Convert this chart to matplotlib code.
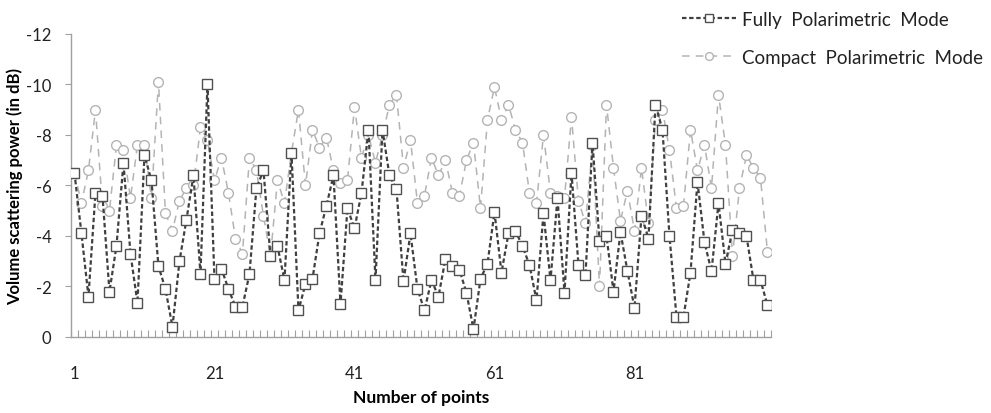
import numpy as np
import matplotlib
matplotlib.use("Agg")
import matplotlib.pyplot as plt
from matplotlib.ticker import FixedLocator

plt.rcParams['font.family'] = ['Lato', 'DejaVu Sans']
plt.rcParams['axes.unicode_minus'] = False

# volume scattering power (dB, stored as magnitude)
fully_pol = [6.5, 4.1, 1.6, 5.7, 5.6, 1.8, 3.6, 6.9, 3.3, 1.35,
             7.2, 6.2, 2.8, 1.9, 0.4, 3.0, 4.65, 6.4, 2.5, 10.0,
             2.3, 2.7, 1.9, 1.2, 1.2, 2.5, 5.9, 6.6, 3.2, 3.6,
             2.25, 7.3, 1.05, 2.1, 2.3, 4.1, 5.2, 6.4, 1.3, 5.1,
             4.3, 5.7, 8.2, 2.25, 8.2, 6.4, 5.85, 2.2, 4.1, 1.9,
             1.05, 2.25, 1.6, 3.1, 2.8, 2.65, 1.75, 0.3, 2.3, 2.9,
             4.95, 2.55, 4.1, 4.2, 3.6, 2.85, 1.45, 4.9, 2.25, 5.5,
             1.75, 6.5, 2.85, 2.45, 7.7, 3.8, 4.0, 1.8, 4.15, 2.6,
             1.15, 4.8, 3.9, 9.2, 8.2, 4.0, 0.8, 0.8, 2.55, 6.15,
             3.75, 2.6, 5.3, 2.9, 4.25, 4.1, 4.0, 2.25, 2.25, 1.25]

compact_pol = [6.5, 5.3, 6.6, 9.0, 5.2, 5.0, 7.6, 7.4, 5.5, 7.6,
               7.6, 5.5, 10.1, 4.9, 4.2, 5.4, 5.9, 6.0, 8.3, 7.8,
               6.2, 7.1, 5.7, 3.9, 3.3, 7.1, 6.6, 4.8, 3.2, 6.2,
               5.3, 7.3, 9.0, 6.0, 8.2, 7.5, 7.9, 6.6, 6.1, 6.2,
               9.1, 7.1, 8.0, 6.9, 8.0, 9.2, 9.6, 6.7, 7.8, 5.3,
               5.6, 7.1, 6.4, 7.0, 5.7, 5.6, 7.0, 7.7, 5.1, 8.6,
               9.9, 8.6, 9.2, 8.2, 7.7, 5.7, 5.3, 8.0, 5.7, 5.6,
               5.5, 8.7, 5.4, 4.5, 7.6, 2.0, 9.2, 6.7, 4.6, 5.8,
               4.2, 6.7, 4.5, 8.6, 9.0, 7.4, 5.1, 5.2, 8.2, 6.6,
               7.6, 5.9, 9.6, 7.6, 3.2, 5.9, 7.2, 6.7, 6.3, 3.35]

points = np.arange(1, len(fully_pol) + 1)
xtick_labels = [1, 21, 41, 61, 81]
ytick_values = [0, -2, -4, -6, -8, -10, -12]

fig = plt.figure(figsize=(9.91, 4.14), dpi=100)
ax = fig.add_axes([0.0716, 0.1836, 0.7064, 0.7319])

ax.plot(points, -np.array(compact_pol), linestyle=(0, (5, 4)), color='#b4b4b4',
        linewidth=1.1, marker='o', markersize=7, markerfacecolor='white',
        markeredgecolor='#b4b4b4', markeredgewidth=1.0,
        label='Compact  Polarimetric  Mode', zorder=2)
ax.plot(points, -np.array(fully_pol), linestyle=(0, (2, 1.2)), color='#404040',
        linewidth=1.6, marker='s', markersize=7, markerfacecolor='white',
        markeredgecolor='#505050', markeredgewidth=1.0,
        label='Fully  Polarimetric  Mode', zorder=3)

ax.set_xlim(0.5, len(points) + 0.5)
ax.set_ylim(0, -12)
ax.set_yticks(ytick_values)
ax.set_yticklabels([str(v) for v in ytick_values])
ax.set_xticks(xtick_labels)
ax.set_xticklabels([str(v) for v in xtick_labels])
ax.xaxis.set_minor_locator(FixedLocator(np.arange(0.5, len(points) + 1, 1)))

ax.tick_params(axis='x', which='major', length=0, pad=20, labelsize=12, labelcolor='#222222')
ax.tick_params(axis='x', which='minor', direction='in', length=5, width=0.8, color='#a0a0a0')
ax.tick_params(axis='y', which='major', direction='out', length=4, width=0.8,
               color='#a0a0a0', labelsize=12, labelcolor='#222222', pad=10)

for side in ['top', 'right']:
    ax.spines[side].set_visible(False)
for side in ['left', 'bottom']:
    ax.spines[side].set_color('#a0a0a0')
    ax.spines[side].set_linewidth(1.0)

ax.set_xlabel('Number of points', fontsize=12.5, fontweight='bold', labelpad=6)
ax.set_ylabel('Volume scattering power (in dB)', fontsize=12, fontweight='bold', labelpad=2)

handles, labels = ax.get_legend_handles_labels()
leg = fig.legend(handles[::-1], labels[::-1], loc='upper left', bbox_to_anchor=(0.671, 1.012),
                 frameon=False, fontsize=13.5, handlelength=2.9, handletextpad=0.3,
                 labelspacing=1.1, markerscale=0.8)
for t in leg.get_texts():
    t.set_color('#222222')

fig.savefig('out.png', dpi=100)
